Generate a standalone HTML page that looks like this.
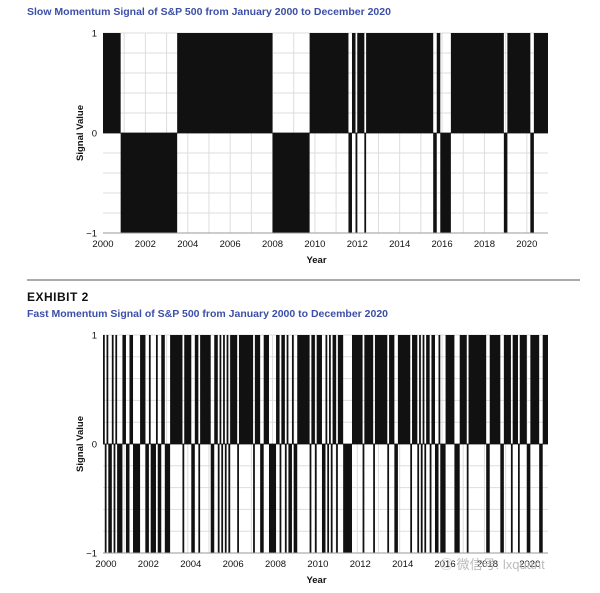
<!DOCTYPE html>
<html><head><meta charset="utf-8"><style>
body{margin:0;background:#fff;width:600px;height:593px;overflow:hidden;font-family:"Liberation Sans","Noto Sans CJK SC",sans-serif}
svg{display:block}
</style></head><body>
<svg width="600" height="593">
<text x="27" y="15" font-size="10.5" font-weight="bold" fill="#3c4fa8">Slow Momentum Signal of S&amp;P 500 from January 2000 to December 2020</text>
<line x1="27" y1="280" x2="580" y2="280" stroke="#555" stroke-width="1"/>
<text x="27" y="301" font-size="12" font-weight="bold" fill="#111" letter-spacing="0.5">EXHIBIT 2</text>
<text x="27" y="317" font-size="10.5" font-weight="bold" fill="#3c4fa8">Fast Momentum Signal of S&amp;P 500 from January 2000 to December 2020</text>
<g id="slow"></g>
<g id="fast"></g>
<text x="440" y="569" font-size="13" fill="#bbb">◎ 微信号: lxquant</text>
</svg>
<script>
// Data: months since Jan 2000 where signal = +1 (start inclusive, end exclusive); otherwise -1
const slowPosStart=[0,42,117,141,144,149,189,197,229,244];
const slowPosEnd=[10,96,139,143,148,187,191,227,242,252];
const fastPosStart=[0,2,5,7,11,15,21,26,30,33,38,46,52,55,63,66,68,70,72,77,86,91,98,101,104,107,110,118,121,126,128,130,133,141,148,154,162,167,175,179,181,183,186,190,194,202,207,219,227,232,236,242,249];
const fastPosEnd=[1,3,6,8,13,17,24,27,31,35,45,50,54,61,65,67,69,71,76,85,89,94,100,103,105,108,117,120,124,127,129,132,136,147,153,161,165,174,178,180,182,185,188,191,199,206,217,225,231,235,240,247,252];
const totalMonths=252;
const yearTicks=[2000,2002,2004,2006,2008,2010,2012,2014,2016,2018,2020];
const yTicks=[1,0,-1];
const NS="http://www.w3.org/2000/svg";
function mk(tag,attrs,parent){const e=document.createElementNS(NS,tag);for(const k in attrs)e.setAttribute(k,attrs[k]);parent.appendChild(e);return e;}
function draw(gid,top,bottom,starts,ends,labShift){
  const g=document.getElementById(gid);
  const x0=103,x1=548;
  const xm=m=>x0+(x1-x0)*m/totalMonths;
  const xy=y=>xm((y-2000)*12);
  const yv=v=>top+(bottom-top)*(1-v)/2;
  // grid
  for(let i=0;i<=10;i++){const y=top+(bottom-top)*i/10;
    const l=mk('line',{x1:x0,x2:x1,y1:y,y2:y,stroke:'#ddd','stroke-width':1},g);
    
    }
  for(let yr=2001;yr<=2020;yr++){const x=xy(yr);
    const l=mk('line',{x1:x,x2:x,y1:top,y2:bottom,stroke:'#ddd','stroke-width':1},g);
    
    }
  // signal runs
  const sig=new Array(totalMonths).fill(-1);
  starts.forEach((s,i)=>{for(let m=s;m<ends[i];m++)sig[m]=1;});
  let m=0;
  while(m<totalMonths){let e=m;while(e<totalMonths&&sig[e]===sig[m])e++;
    const v=sig[m];const ya=yv(v),yb=yv(0);
    const r=mk('rect',{x:xm(m),y:Math.min(ya,yb),width:xm(e)-xm(m),height:Math.abs(yb-ya),fill:'#111'},g);
    
    
    m=e;}
  mk('line',{x1:x0,x2:x1,y1:yv(0),y2:yv(0),stroke:'#111','stroke-width':0.8},g);
  mk('line',{x1:x0,x2:x1,y1:bottom,y2:bottom,stroke:'#999','stroke-width':1},g);
  yTicks.forEach(v=>{const t=mk('text',{x:97,y:yv(v)+3.5,'font-size':9.5,'text-anchor':'end',fill:'#111'},g);
    t.textContent=v<0?'−1':String(v);
    
    });
  yearTicks.forEach(yr=>{const t=mk('text',{x:xy(yr)+labShift,y:bottom+14,'font-size':9.5,'text-anchor':'middle',fill:'#111'},g);
    t.textContent=yr;
    
    });
  const xt=mk('text',{x:(x0+x1)/2-9,y:bottom+30,'font-size':9.5,'font-weight':'bold','text-anchor':'middle',fill:'#111'},g);
  xt.textContent='Year';
  
  
  const cy=(top+bottom)/2;
  const yt=mk('text',{x:83,y:cy,'font-size':9.5,'font-weight':'bold','text-anchor':'middle',fill:'#111',transform:`rotate(-90 83 ${cy})`},g);
  yt.textContent='Signal Value';
  
  
}
draw('slow',33,233,slowPosStart,slowPosEnd,0);
draw('fast',335,553,fastPosStart,fastPosEnd,3);
</script>
</body></html>
